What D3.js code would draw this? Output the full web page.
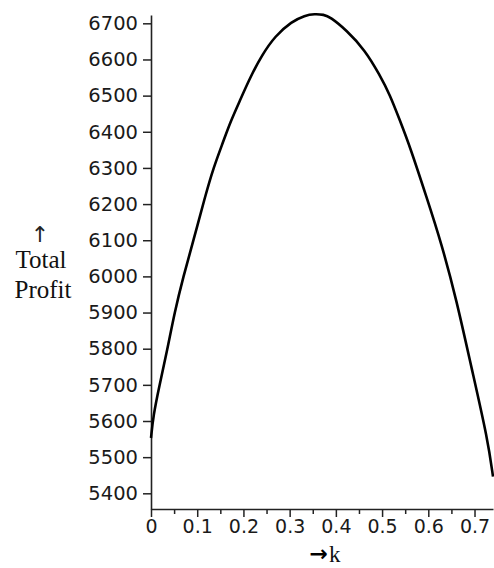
<!DOCTYPE html>
<html>
<head>
<meta charset="utf-8">
<script src="https://cdn.jsdelivr.net/npm/d3@7"></script>
<style>
  body { margin: 0; background: #fff; }
  .tick text { font-family: "DejaVu Sans", sans-serif; fill: #1a1a1a; }
  .lbl { font-family: "Liberation Serif", "Times New Roman", serif; fill: #111; }
</style>
</head>
<body>
<div id="chart"></div>
<script>
// values
const kValues = [0, 0.005, 0.018, 0.035, 0.051, 0.070, 0.092, 0.1173, 0.135, 0.157, 0.171, 0.193,
  0.2145, 0.24, 0.2685, 0.3045, 0.333, 0.354, 0.374, 0.387, 0.423, 0.463, 0.495, 0.517,
  0.538, 0.560, 0.596, 0.6285, 0.661, 0.693, 0.729, 0.740];
const profitValues = [5553, 5615, 5697, 5795, 5900, 6000, 6100, 6222, 6300, 6375, 6425, 6488,
  6550, 6612, 6665, 6705, 6722, 6726, 6724, 6718, 6681, 6626, 6557, 6502,
  6433, 6360, 6220, 6091, 5935, 5750, 5547, 5446];
const yTickValues = [5400, 5500, 5600, 5700, 5800, 5900, 6000, 6100, 6200, 6300, 6400, 6500, 6600, 6700];
const xTickValues = [0, 0.1, 0.2, 0.3, 0.4, 0.5, 0.6, 0.7];
const xMinorTicks = [0.05, 0.15, 0.25, 0.35, 0.45, 0.55, 0.65];
const xDomain = [0, 0.74];
const yDomain = [5356.6, 6723];

const data = kValues.map((k, i) => ({ k: k, p: profitValues[i] }));

const W = 494, H = 568;
const x0 = 151, x1 = 493, y0 = 509, y1 = 15;

const x = d3.scaleLinear().domain(xDomain).range([x0, x1]);
const y = d3.scaleLinear().domain(yDomain).range([y0, y1]);

const svg = d3.select("#chart")
  .append("svg")
    .attr("width", W)
    .attr("height", H);

// y axis
const yAxis = svg.append("g")
    .attr("transform", `translate(${x0},0)`)
    .call(d3.axisLeft(y).tickValues(yTickValues).tickSize(8).tickPadding(5).tickSizeOuter(0)
      .tickFormat(d3.format("d")));
yAxis.select(".domain").attr("stroke", "#222").attr("stroke-width", 1.6);
yAxis.selectAll(".tick line").attr("stroke", "#222").attr("stroke-width", 1.5);
yAxis.selectAll(".tick text").style("font-size", "19.5px");

// x axis minor ticks
svg.append("g")
    .attr("transform", `translate(0,${y0})`)
    .call(d3.axisBottom(x).tickValues(xMinorTicks).tickSize(5).tickFormat(""))
  .call(g => g.select(".domain").remove())
  .selectAll(".tick line").attr("stroke", "#222").attr("stroke-width", 1.5);

// x axis
const xAxis = svg.append("g")
    .attr("transform", `translate(0,${y0})`)
    .call(d3.axisBottom(x).tickValues(xTickValues).tickSize(8).tickPadding(3).tickSizeOuter(0)
      .tickFormat(d => d === 0 ? "0" : d3.format(".1f")(d)));
xAxis.select(".domain").attr("stroke", "#222").attr("stroke-width", 1.6);
xAxis.selectAll(".tick line").attr("stroke", "#222").attr("stroke-width", 1.5);
xAxis.selectAll(".tick text").style("font-size", "19px");

// curve
svg.append("path")
    .datum(data)
    .attr("fill", "none")
    .attr("stroke", "#000")
    .attr("stroke-width", 2.6)
    .attr("d", d3.line()
      .x(d => x(d.k))
      .y(d => y(d.p))
      .curve(d3.curveBasis));

// y label
svg.append("text")
    .attr("x", 40).attr("y", 242)
    .attr("text-anchor", "middle")
    .style("font-family", "DejaVu Sans, sans-serif")
    .style("font-size", "22px")
    .style("fill", "#222")
    .text("↑");
svg.append("text").attr("class", "lbl")
    .attr("x", 41).attr("y", 268)
    .attr("text-anchor", "middle")
    .style("font-size", "25px")
    .text("Total");
svg.append("text").attr("class", "lbl")
    .attr("x", 43).attr("y", 298)
    .attr("text-anchor", "middle")
    .style("font-size", "25px")
    .text("Profit");

// x label
svg.append("text")
    .attr("x", 328).attr("y", 561)
    .attr("text-anchor", "end")
    .style("font-family", "DejaVu Sans, sans-serif")
    .style("font-weight", "bold")
    .style("font-size", "22px")
    .style("fill", "#000")
    .text("→");
svg.append("text").attr("class", "lbl")
    .attr("x", 329).attr("y", 562)
    .style("font-size", "23px")
    .text("k");
</script>
</body>
</html>
